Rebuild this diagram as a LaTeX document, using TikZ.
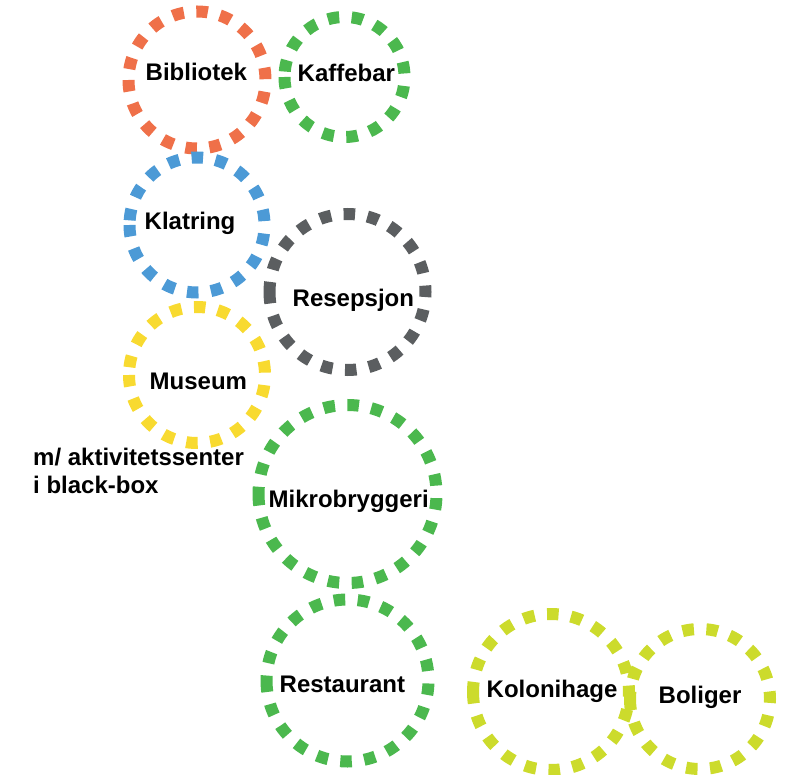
\documentclass[tikz,border=0pt]{standalone}
\usepackage{fontspec}
\setmainfont{Liberation Sans}
\usepackage{tikz}
\usetikzlibrary{positioning}

\definecolor{ringorange}{HTML}{EF7049}
\definecolor{ringgreen}{HTML}{4BB84E}
\definecolor{ringblue}{HTML}{4C9AD6}
\definecolor{ringgray}{HTML}{5B5E60}
\definecolor{ringyellow}{HTML}{F8DA30}
\definecolor{ringlime}{HTML}{CCDB2C}

\begin{document}
\begin{tikzpicture}[x=1pt,y=-1pt,font=\bfseries\fontsize{24}{28}\selectfont]
    \tikzstyle{ring}=[draw, circle, line width=12pt, dash pattern=on 11.5pt off 12.5pt, inner sep=0pt, rotate=180]
    \tikzstyle{ringtext}=[anchor=base west, inner sep=0pt]
    \useasboundingbox (0,0) rectangle (795,775);

    \node[ring, ringorange, minimum size=137pt] (bibliotek) at (197,80) {};
    \node[ring, ringgreen, minimum size=120pt] (kaffebar) at (344.5,77) {};
    \node[ring, ringblue, minimum size=135pt] (klatring) at (197,225) {};
    \node[ring, ringgray, minimum size=156pt] (resepsjon) at (347.5,292) {};
    \node[ring, ringyellow, minimum size=136pt] (museum) at (197,375) {};
    \node[ring, ringgreen, minimum size=178pt] (mikrobryggeri) at (347.5,494) {};
    \node[ring, ringgreen, minimum size=162pt] (restaurant) at (347.5,680.5) {};
    \node[ring, ringlime, minimum size=156pt] (kolonihage) at (551,692) {};
    \node[ring, ringlime, minimum size=140pt] (boliger) at (700,699) {};

    \node[ringtext] (bibliotektxt) at (145.5,81) {Bibliotek};
    \node[ringtext] (kaffebartxt) at (297.5,81.5) {Kaffebar};
    \node[ringtext] (klatringtxt) at (144.5,229.5) {Klatring};
    \node[ringtext] (resepsjontxt) at (292.5,306.5) {Resepsjon};
    \node[ringtext] (museumtxt) at (149.5,390) {Museum};
    \node[ringtext, align=left] (museumnote) at (33,493) {m/ aktivitetssenter\\i black-box};
    \node[ringtext] (mikrobryggeritxt) at (268.5,507) {Mikrobryggeri};
    \node[ringtext] (restauranttxt) at (279.5,692) {Restaurant};
    \node[ringtext] (kolonihagetxt) at (486.5,697.5) {Kolonihage};
    \node[ringtext] (boligertxt) at (658.5,703) {Boliger};
\end{tikzpicture}
\end{document}
